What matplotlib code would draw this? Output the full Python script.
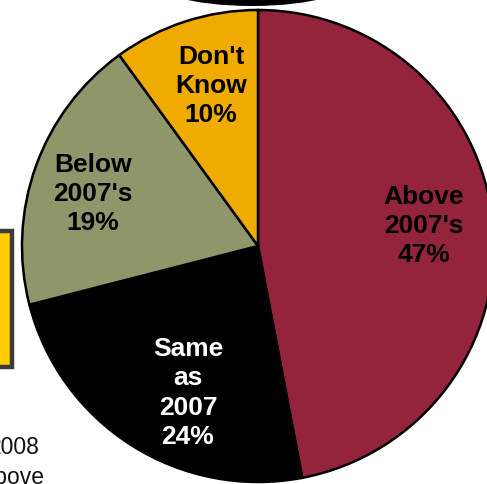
"""
Pie chart: expectations vs 2007 (cropped slide view)
"""

### Import modules
import matplotlib
matplotlib.use('Agg')
import matplotlib.pyplot as plt
from matplotlib.patches import Ellipse, Rectangle

### Data
labels = ["Above\n2007's\n47%", "Same\nas\n2007\n24%", "Below\n2007's\n19%",
          "Don't\nKnow\n10%"]
shares = [47, 24, 19, 10]
colors = ['#93243B', '#000000', '#8F966A', '#F0AB00']
textcolors = ['black', 'white', 'black', 'black']

### Layout (pixel coords of the slide crop, y down)
W, H = 487, 484
cx, cy, rad = 258, 246, 236
labelpos = [(424, 226), (188, 393), (93, 194), (211, 86)]

plt.rcParams['font.family'] = ['Liberation Sans', 'DejaVu Sans']

fig = plt.figure(figsize=(W/100., H/100.), dpi=100)
ax = fig.add_axes([0, 0, 1, 1])

wedges, _ = ax.pie(shares, colors=colors, startangle=90, counterclock=False,
                   center=(cx, H-cy), radius=rad,
                   wedgeprops=dict(edgecolor='black', linewidth=1.8))

for (x, y), lab, tc in zip(labelpos, labels, textcolors):
    ax.text(x, H-y, lab, ha='center', va='center', fontsize=19,
            fontweight='bold', color=tc, linespacing=1.27)

### Bits of the rest of the slide
ax.add_patch(Ellipse((252, H+24), 216, 60, facecolor='black',
                     edgecolor='none'))
ax.add_patch(Rectangle((-20, H-367), 32, 136, facecolor='#FFCC00',
                       edgecolor='#3C3C3C', linewidth=3.2))
ax.text(40, H-448, '2008', ha='right', va='center', fontsize=16.5,
        color='#111111')
ax.text(45, H-477, 'Above', ha='right', va='center', fontsize=16.5,
        color='#111111')

ax.set_xlim(0, W)
ax.set_ylim(0, H)
ax.set_aspect('auto')
ax.axis('off')

plt.savefig('out.png', dpi=100)
